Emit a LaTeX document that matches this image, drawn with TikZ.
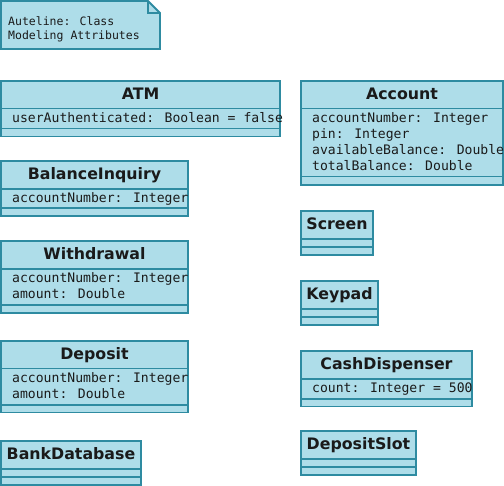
\documentclass[tikz,border=0pt]{standalone}
\usepackage{fontspec}
\newfontfamily\titlefam{DejaVu Sans}
\newfontfamily\monofam{DejaVu Sans Mono}
\definecolor{boxfill}{HTML}{AEDDE9}
\definecolor{boxline}{HTML}{2E8BA1}
\definecolor{textc}{HTML}{1A1A1A}
\tikzset{
  classbox/.style={draw=boxline, fill=boxfill, line width=1.8pt},
  classline/.style={draw=boxline, line width=1.8pt},
  titletext/.style={anchor=base, inner sep=0pt, text=textc, font=\titlefam\bfseries\fontsize{15.8}{18}\selectfont},
  attr/.style={anchor=base west, inner sep=0pt, text=textc, font=\monofam\fontsize{13.1}{16}\selectfont},
  notetext/.style={anchor=base west, inner sep=0pt, text=textc, font=\monofam\fontsize{11.5}{14}\selectfont}
}
\newcommand\umlclass[8]{%
  \draw[classbox] (#2,#3) rectangle (#4,#7);
  \draw[classline] (#2,#5) -- (#4,#5);
  \draw[classline] (#2,#6) -- (#4,#6);
  \node[titletext] (#1) at ({(#2+#4)/2},{#3+19}) {#8};
}
\begin{document}
\begin{tikzpicture}[x=1pt,y=-1pt]
\useasboundingbox (0,0) rectangle (504,486);
% note
\draw[classbox, line join=miter] (1,1) -- (148,1) -- (160,13) -- (160,49) -- (1,49) -- cycle;
\draw[classline] (148,1) -- (148,13) -- (160,13);
\node[notetext] (note1) at (8,26) {Auteline: Class};
\node[notetext] (note2) at (8,40) {Modeling Attributes};
% left column
\umlclass{atm}{1}{81}{280}{108.5}{128.5}{136.5}{ATM}
\node[attr] (atm-a1) at (12,123) {userAuthenticated: Boolean = false};
\umlclass{bi}{1}{161}{188}{189}{208}{216}{BalanceInquiry}
\node[attr] (bi-a1) at (12,203) {accountNumber: Integer};
\umlclass{wd}{1}{241}{188}{269}{305}{313}{Withdrawal}
\node[attr] (wd-a1) at (12,283) {accountNumber: Integer};
\node[attr] (wd-a2) at (12,299) {amount: Double};
\umlclass{dep}{1}{341}{188}{368.5}{405}{412.5}{Deposit}
\node[attr] (dep-a1) at (12,383) {accountNumber: Integer};
\node[attr] (dep-a2) at (12,399) {amount: Double};
\umlclass{bank}{1}{441}{141}{469}{477}{485}{BankDatabase}
% right column
\umlclass{acc}{301}{81}{503}{108.5}{176.5}{185}{Account}
\node[attr] (acc-a1) at (312,123) {accountNumber: Integer};
\node[attr] (acc-a2) at (312,139) {pin: Integer};
\node[attr] (acc-a3) at (312,155) {availableBalance: Double};
\node[attr] (acc-a4) at (312,171) {totalBalance: Double};
\umlclass{scr}{301}{211}{373}{239}{247}{255}{Screen}
\umlclass{kp}{301}{281}{378}{309}{317}{325}{Keypad}
\umlclass{cd}{301}{351}{472}{379}{399}{406.5}{CashDispenser}
\node[attr] (cd-a1) at (312,393) {count: Integer = 500};
\umlclass{ds}{301}{431}{416}{459}{467}{475}{DepositSlot}
\end{tikzpicture}
\end{document}
